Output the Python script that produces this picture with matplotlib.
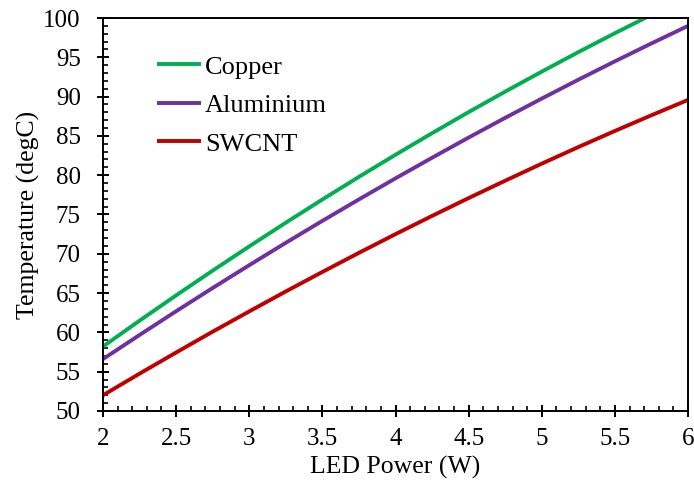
import numpy as np
import matplotlib
matplotlib.use('Agg')
import matplotlib.pyplot as plt
from matplotlib.ticker import MultipleLocator

# ------------------- Data ------------------- #
led_power = [2.0, 2.25, 2.5, 2.75, 3.0, 3.25, 3.5, 3.75, 4.0,
             4.25, 4.5, 4.75, 5.0, 5.25, 5.5, 5.75, 6.0]

copper = [58.2, 61.49, 64.71, 67.86, 70.94, 73.96, 76.91, 79.79, 82.6,
          85.35, 88.03, 90.64, 93.18, 95.66, 98.07, 100.41, 102.68]
aluminium = [56.6, 59.67, 62.69, 65.65, 68.55, 71.4, 74.19, 76.92, 79.6,
             82.22, 84.79, 87.3, 89.75, 92.15, 94.49, 96.77, 99.0]
swcnt = [52.0, 54.75, 57.44, 60.09, 62.67, 65.21, 67.69, 70.12, 72.5,
         74.82, 77.09, 79.3, 81.47, 83.58, 85.63, 87.63, 89.58]

series_names = ['Copper', 'Aluminium', 'SWCNT']
series_colors = ['#00B050', '#7030A0', '#C00000']

plt.rcParams['font.family'] = ['Liberation Serif', 'DejaVu Serif']

fig = plt.figure(figsize=(6.94, 4.91), dpi=100)
ax = fig.add_axes([0.1484, 0.163, 0.843, 0.8003])

for vals, name, col in zip([copper, aluminium, swcnt], series_names, series_colors):
    ax.plot(led_power, vals, color=col, linewidth=2.8, label=name, solid_capstyle='butt')

ax.set_xlim(2, 6)
ax.set_ylim(50, 100)
ax.xaxis.set_major_locator(MultipleLocator(0.5))
ax.xaxis.set_minor_locator(MultipleLocator(0.1))
ax.yaxis.set_major_locator(MultipleLocator(5))
ax.yaxis.set_minor_locator(MultipleLocator(1))
ax.xaxis.set_major_formatter(plt.FuncFormatter(lambda v, p: f'{v:g}'))

ax.tick_params(which='major', direction='inout', length=9, width=1.4, labelsize=18)
ax.tick_params(axis='x', which='major', pad=8)
ax.tick_params(axis='y', which='major', pad=11.5)
ax.tick_params(which='minor', direction='in', length=3.6, width=1.2)
for s in ax.spines.values():
    s.set_linewidth(1.4)

ax.set_xlabel('LED Power (W)', fontsize=18.5, labelpad=4)
ax.set_ylabel('Temperature (degC)', fontsize=18.5, labelpad=2)

ax.legend(loc='upper left', bbox_to_anchor=(0.0735, 0.9326), frameon=False,
          handlelength=1.67, handletextpad=0.16, labelspacing=0.57, fontsize=19,
          borderaxespad=0)

fig.savefig('out.png', dpi=100)
